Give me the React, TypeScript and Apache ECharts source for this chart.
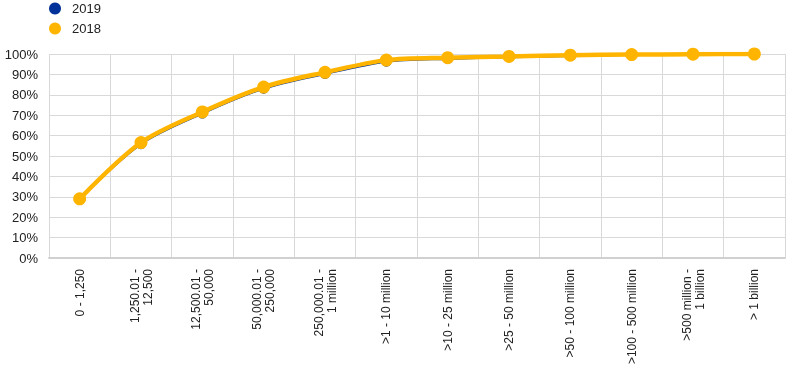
import React, { useEffect, useRef } from "react";
import * as echarts from "echarts";

const categories = [
  "0 - 1,250",
  "1,250.01 -\n12,500",
  "12,500.01 -\n50,000",
  "50,000.01 -\n250,000",
  "250,000.01 -\n1 million",
  ">1 - 10 million",
  ">10 - 25 million",
  ">25 - 50 million",
  ">50 - 100 million",
  ">100 - 500 million",
  ">500 million -\n1 billion",
  "> 1 billion",
];

const values2019 = [28.8, 55.8, 70.8, 83.0, 90.2, 96.2, 97.6, 98.4, 99.0, 99.6, 99.8, 100];
const values2018 = [29.0, 56.6, 71.6, 83.8, 91.0, 97.0, 98.2, 98.8, 99.4, 99.7, 99.9, 100];

const NAVY = "#003299";
const YELLOW = "#FFB400";

export default function App() {
  const ref = useRef<HTMLDivElement>(null);
  useEffect(() => {
    if (!ref.current) return;
    const chart = echarts.init(ref.current, undefined, { renderer: "svg" });
    chart.setOption({
      animation: false,
      textStyle: { fontFamily: "Liberation Sans, Arial, sans-serif" },
      legend: {
        orient: "vertical",
        left: 49,
        top: 2,
        padding: 0,
        itemWidth: 12,
        itemHeight: 12,
        itemGap: 7,
        icon: "circle",
        textStyle: { fontSize: 13, color: "#222", padding: [0, 0, 0, 6] },
        data: ["2019", "2018"],
      },
      grid: { left: 49, right: 15, top: 54, bottom: 123, containLabel: false },
      xAxis: {
        type: "category",
        data: categories,
        boundaryGap: true,
        axisLine: { show: true, lineStyle: { color: "#d0d0d0", width: 2 } },
        axisTick: { show: false },
        splitLine: { show: true, lineStyle: { color: "#d9d9d9", width: 1 } },
        axisLabel: {
          interval: 0,
          rotate: 90,
          fontSize: 12,
          color: "#222",
          lineHeight: 13,
          margin: 11,
        },
      },
      yAxis: {
        type: "value",
        min: 0,
        max: 100,
        interval: 10,
        axisLine: { show: false },
        axisTick: { show: false },
        splitLine: { show: true, lineStyle: { color: "#d9d9d9", width: 1 } },
        axisLabel: { formatter: "{value}%", fontSize: 13, color: "#222", margin: 11 },
      },
      series: [
        {
          name: "2019",
          type: "line",
          data: values2019,
          smooth: 0.3,
          symbol: "circle",
          symbolSize: 10,
          itemStyle: { color: NAVY },
          lineStyle: { color: NAVY, width: 2 },
          z: 2,
        },
        {
          name: "2018",
          type: "line",
          data: values2018,
          smooth: 0.3,
          symbol: "circle",
          symbolSize: 13,
          itemStyle: { color: YELLOW },
          lineStyle: { color: YELLOW, width: 4.5 },
          z: 3,
        },
      ],
    });
    return () => chart.dispose();
  }, []);
  return (
    <div
      ref={ref}
      style={{ position: "fixed", left: 0, top: 0, width: 800, height: 381 }}
    />
  );
}
